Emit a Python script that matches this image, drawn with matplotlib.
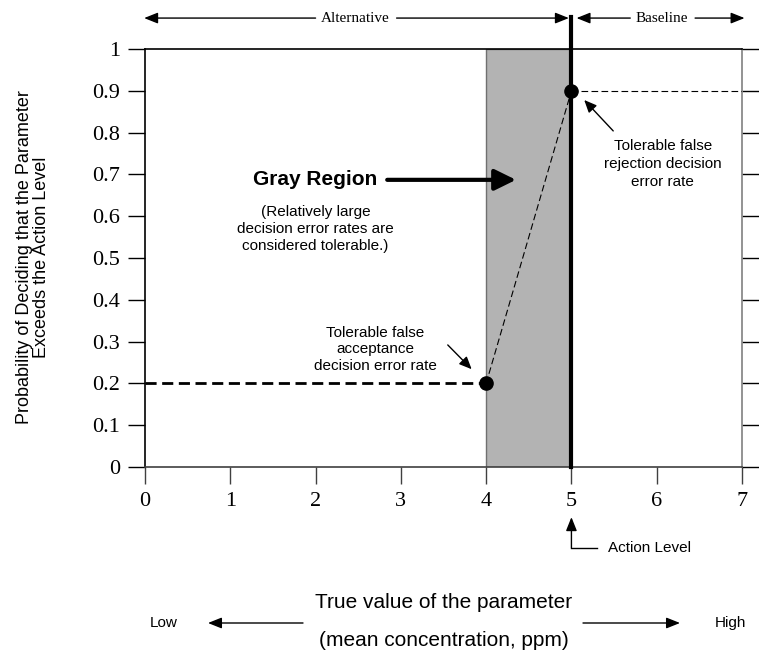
import matplotlib
matplotlib.use("Agg")
import matplotlib.pyplot as plt

# chart values
x_ticks = [0, 1, 2, 3, 4, 5, 6, 7]
y_ticks = [0, 0.1, 0.2, 0.3, 0.4, 0.5, 0.6, 0.7, 0.8, 0.9, 1.0]
y_tick_labels = ['0', '0.1', '0.2', '0.3', '0.4', '0.5', '0.6', '0.7', '0.8', '0.9', '1']
gray_lo, gray_hi = 4, 5
action_level = 5
fa_rate = 0.2   # tolerable false acceptance
fr_rate = 0.9   # tolerable false rejection
x_min, x_max = 0, 7

W, H = 759, 655
SANS = ['Liberation Sans', 'DejaVu Sans']
SERIF = ['Liberation Serif', 'DejaVu Serif']

fig = plt.figure(figsize=(W / 100, H / 100), dpi=100)
ax = fig.add_axes([145 / W, 1 - 467 / H, (742 - 145) / W, (467 - 49) / H])
ax.set_xlim(x_min, x_max)
ax.set_ylim(0, 1)

# gray region
ax.axvspan(gray_lo, gray_hi, ymin=0, ymax=1, facecolor='#b3b3b3', edgecolor='#707070', lw=1, zorder=1)

# decision performance lines
ax.plot([x_min, gray_lo], [fa_rate, fa_rate], color='black', lw=2, dashes=(4, 2), zorder=3)
ax.plot([gray_lo, action_level], [fa_rate, fr_rate], color='black', lw=0.8, dashes=(6, 3), zorder=3)
ax.plot([action_level, x_max], [fr_rate, fr_rate], color='black', lw=0.8, dashes=(6, 3), zorder=3)

# action level line
ax.plot([action_level, action_level], [0, 1.077], color='black', lw=3, clip_on=False, zorder=4)
ax.plot([gray_lo, action_level], [fa_rate, fr_rate], 'o', color='black', ms=9.5, zorder=5)

# axes styling
ax.set_xticks(x_ticks)
ax.set_yticks(y_ticks)
ax.set_yticklabels(y_tick_labels)
ax.tick_params(axis='both', direction='out', length=12, width=1, labelsize=16, pad=6)
ax.tick_params(axis='y', right=True)
ax.tick_params(axis='x', colors='#404040', labelcolor='black', pad=6)
for lab in ax.get_xticklabels() + ax.get_yticklabels():
    lab.set_family(SERIF)
for t in ax.yaxis.get_major_ticks():
    t.tick2line.set_color('#808080')
ax.spines['left'].set_color('black')
ax.spines['top'].set_color('black')
ax.spines['bottom'].set_color('#404040')
ax.spines['right'].set_color('#808080')
for s in ax.spines.values():
    s.set_linewidth(1.2)

# Gray Region label
ax.text(1.99, 0.687, 'Gray Region', family=SANS, fontsize=15, fontweight='bold',
        ha='center', va='center')
ax.annotate('', xy=(4.35, 0.687), xytext=(2.84, 0.687),
            arrowprops=dict(arrowstyle='-|>,head_length=0.65,head_width=0.32',
                            lw=3, color='black', mutation_scale=20, shrinkA=0, shrinkB=0))
ax.text(2.0, 0.569, '(Relatively large\ndecision error rates are\nconsidered tolerable.)',
        family=SANS, fontsize=11, ha='center', va='center', linespacing=1.25)

# tolerable error annotations
ax.text(6.07, 0.725, 'Tolerable false\nrejection decision\nerror rate', family=SANS,
        fontsize=11, ha='center', va='center', linespacing=1.35)
ax.annotate('', xy=(5.15, 0.878), xytext=(5.49, 0.804),
            arrowprops=dict(arrowstyle='-|>,head_length=0.5,head_width=0.22', lw=1,
                            color='black', mutation_scale=15, shrinkA=0, shrinkB=0))
ax.text(2.7, 0.282, 'Tolerable false\nacceptance\ndecision error rate', family=SANS,
        fontsize=11, ha='center', va='center', linespacing=1.22)
ax.annotate('', xy=(3.83, 0.234), xytext=(3.55, 0.292),
            arrowprops=dict(arrowstyle='-|>,head_length=0.5,head_width=0.22', lw=1,
                            color='black', mutation_scale=15, shrinkA=0, shrinkB=0))

# top Alternative / Baseline arrows
top_y = 1.074
small_arrow = dict(arrowstyle='-|>,head_length=0.55,head_width=0.22', lw=1, color='black',
                   mutation_scale=15, shrinkA=0, shrinkB=0)
ax.text(2.47, top_y, 'Alternative', family=SERIF, fontsize=11, ha='center', va='center')
ax.annotate('', xy=(-0.01, top_y), xytext=(2.0, top_y), arrowprops=small_arrow, annotation_clip=False)
ax.annotate('', xy=(4.97, top_y), xytext=(2.95, top_y), arrowprops=small_arrow, annotation_clip=False)
ax.text(6.06, top_y, 'Baseline', family=SERIF, fontsize=11, ha='center', va='center')
ax.annotate('', xy=(5.06, top_y), xytext=(5.69, top_y), arrowprops=small_arrow, annotation_clip=False)
ax.annotate('', xy=(7.03, top_y), xytext=(6.45, top_y), arrowprops=small_arrow, annotation_clip=False)

# action level pointer
ax.annotate('', xy=(action_level, -0.12), xytext=(action_level, -0.193),
            arrowprops=small_arrow, annotation_clip=False)
ax.plot([action_level, 5.30], [-0.193, -0.193], color='black', lw=1, clip_on=False)
ax.text(5.43, -0.193, 'Action Level', family=SANS, fontsize=11, ha='left', va='center')

# y label (two lines)
fig.text(33 / W, 1 - 257 / H, 'Probability of Deciding that the Parameter\nExceeds the Action Level',
         family=SANS, fontsize=13, rotation=90, ha='center', va='center',
         multialignment='center', linespacing=1.0)

# x label block
fig.text(444 / W, 1 - 603 / H, 'True value of the parameter', family=SANS, fontsize=15,
         ha='center', va='center')
fig.text(444 / W, 1 - 641 / H, '(mean concentration, ppm)', family=SANS, fontsize=15,
         ha='center', va='center')
fig.text(164 / W, 1 - 623 / H, 'Low', family=SANS, fontsize=11, ha='center', va='center')
fig.text(730 / W, 1 - 623 / H, 'High', family=SANS, fontsize=11, ha='center', va='center')
ax.annotate('', xy=(208, H - 623), xytext=(303, H - 623), xycoords='figure pixels',
            textcoords='figure pixels', arrowprops=small_arrow, annotation_clip=False)
ax.annotate('', xy=(680, H - 623), xytext=(583, H - 623), xycoords='figure pixels',
            textcoords='figure pixels', arrowprops=small_arrow, annotation_clip=False)

fig.savefig('out.png', dpi=100)
